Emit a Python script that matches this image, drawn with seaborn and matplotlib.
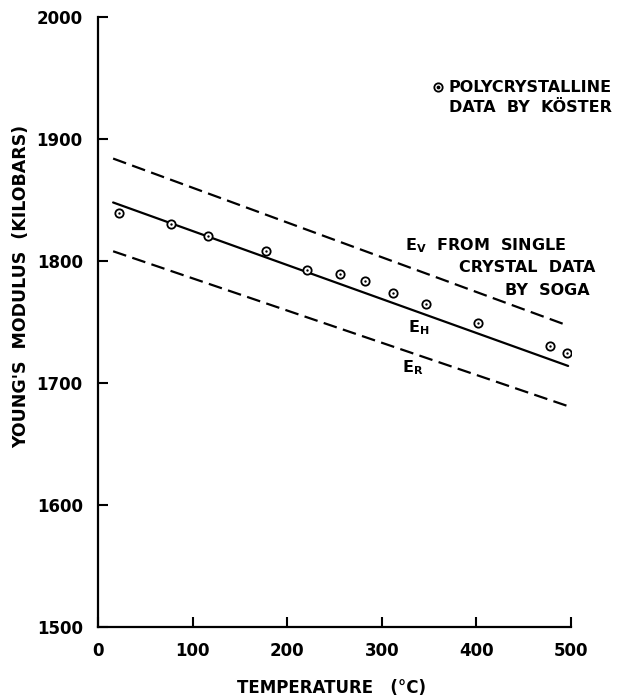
import pandas as pd
import matplotlib
matplotlib.use("Agg")
import matplotlib.pyplot as plt
import seaborn as sns

# Values
line_temp = [16, 497]
ev_line = [1884, 1747]   # Voigt bound (single crystal, Soga)
eh_line = [1848, 1714]   # Hill average
er_line = [1808, 1681]   # Reuss bound

koster_temp = [22, 77, 116, 178, 221, 256, 282, 312, 347, 402, 478, 496]
koster_mod = [1839, 1830, 1820.5, 1808, 1793, 1789, 1783.5, 1774, 1765, 1749, 1730, 1724.5]

x_ticks = [0, 100, 200, 300, 400, 500]
y_ticks = [1500, 1600, 1700, 1800, 1900, 2000]

sns.set_style("ticks")
plt.rcParams['font.family'] = ['DejaVu Sans']
plt.rcParams['font.weight'] = 'bold'
for key in ["text.color", "axes.labelcolor", "xtick.color", "ytick.color", "axes.edgecolor"]:
    plt.rcParams[key] = "black"

lines = pd.DataFrame({
    "T": line_temp * 3,
    "E": ev_line + eh_line + er_line,
    "curve": ["EV"] * 2 + ["EH"] * 2 + ["ER"] * 2,
})
pts = pd.DataFrame({"T": koster_temp, "E": koster_mod})

fig = plt.figure(figsize=(6.17, 6.98), dpi=100)
ax = fig.add_axes([0.1588, 0.1017, 0.7666, 0.8739])

dash = (6.2, 2.9)
sns.lineplot(data=lines, x="T", y="E", style="curve",
             dashes={"EV": dash, "EH": "", "ER": dash},
             color="black", linewidth=1.6, legend=False, ax=ax)
sns.scatterplot(data=pts, x="T", y="E", marker="o", s=36,
                facecolor="white", edgecolor="black", linewidth=1.3, ax=ax, zorder=3)
sns.scatterplot(data=pts, x="T", y="E", marker="o", s=3,
                color="black", linewidth=0, ax=ax, zorder=4)

ax.set_xlim(0, 500)
ax.set_ylim(1500, 2000)
ax.set_xticks(x_ticks)
ax.set_yticks(y_ticks)
ax.tick_params(direction="in", length=7, width=1.5, labelsize=12, pad=11)
ax.set_xlabel("")
ax.set_ylabel("")
sns.despine(ax=ax)
for s in ["left", "bottom"]:
    ax.spines[s].set_linewidth(1.6)

fs = 11.5
# legend key
ax.scatter([0.719], [0.885], transform=ax.transAxes, s=36, facecolor="white",
           edgecolor="black", linewidth=1.3, clip_on=False, zorder=5)
ax.scatter([0.719], [0.885], transform=ax.transAxes, s=3, color="black",
           clip_on=False, zorder=6)
ax.text(0.742, 0.885, "POLYCRYSTALLINE", transform=ax.transAxes, fontsize=fs,
        va="center", ha="left")
ax.text(0.742, 0.852, "DATA  BY  KÖSTER", transform=ax.transAxes, fontsize=fs,
        va="center", ha="left")

ax.text(0.649, 0.626, r"E$_\mathregular{V}$  FROM  SINGLE", transform=ax.transAxes,
        fontsize=fs, va="center", ha="left")
ax.text(1.051, 0.589, "CRYSTAL  DATA", transform=ax.transAxes, fontsize=fs,
        va="center", ha="right")
ax.text(1.040, 0.552, "BY  SOGA", transform=ax.transAxes, fontsize=fs,
        va="center", ha="right")
ax.text(0.655, 0.490, r"E$_\mathregular{H}$", transform=ax.transAxes, fontsize=fs,
        va="center", ha="left")
ax.text(0.643, 0.425, r"E$_\mathregular{R}$", transform=ax.transAxes, fontsize=fs,
        va="center", ha="left")

fig.text(0.035, 0.589, "YOUNG'S  MODULUS  (KILOBARS)", rotation=90,
         fontsize=12.5, ha="center", va="center")
fig.text(0.538, 0.014, "TEMPERATURE   (°C)", fontsize=12, ha="center", va="center")

fig.savefig("out.png", dpi=100)
